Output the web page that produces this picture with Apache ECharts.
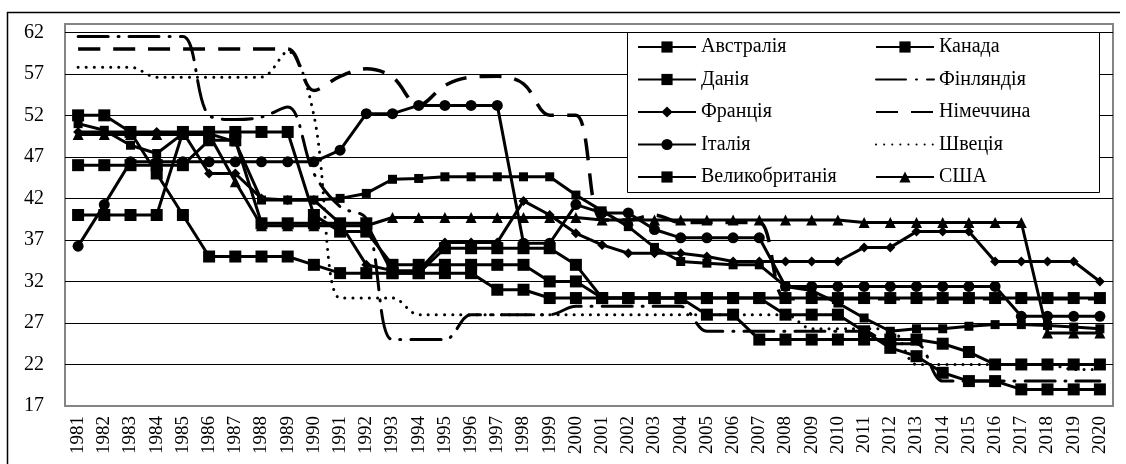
<!DOCTYPE html>
<html>
<head>
<meta charset="utf-8">
<script src="https://cdn.jsdelivr.net/npm/echarts@6/dist/echarts.min.js"></script>
<style>
  html, body { margin: 0; padding: 0; background: #fff; }
  #chart { width: 1126px; height: 464px; }
</style>
</head>
<body>
<div id="chart"></div>
<script>
var years = ['1981','1982','1983','1984','1985','1986','1987','1988','1989','1990',
             '1991','1992','1993','1994','1995','1996','1997','1998','1999','2000',
             '2001','2002','2003','2004','2005','2006','2007','2008','2009','2010',
             '2011','2012','2013','2014','2015','2016','2017','2018','2019','2020'];

// ставки по країнах, 1981-2020
var australia = [46,46,46,46,46,49,49,39,39,39, 39,39,33,33,36,36,36,36,36,34,
                 30,30,30,30,30,30,30,30,30,30, 30,30,30,30,30,30,30,30,30,30];
var canada = [51,50.2,48.4,47.4,49.8,49.8,48.8,41.8,41.8,41.8, 42,42.6,44.3,44.4,44.6,44.6,44.6,44.6,44.6,42.4,
              40.5,38.6,36.1,34.4,34.2,34,34,31.4,30.9,29.4, 27.6,26,26.3,26.3,26.6,26.8,26.8,26.7,26.5,26.3];
var denmark = [40,40,40,40,50,50,50,50,50,40, 38,38,34,34,34,34,34,34,32,32,
               30,30,30,30,28,28,25,25,25,25, 25,25,25,24.5,23.5,22,22,22,22,22];
var finland = [61.5,61.5,61.5,61.5,61.5,52,51.5,51.8,53,45, 41,39.5,25,25,25,28,28,28,28,29,
               29,29,29,29,26,26,26,26,26,26, 26,24.5,24.5,20,20,20,20,20,20,20];
var france = [50,50,50,50,50,45,45,42,41.8,41.8, 39,34,33.3,33.3,36.7,36.7,36.7,41.7,40,37.8,
              36.4,35.4,35.4,35.4,35,34.4,34.4,34.4,34.4,34.4, 36.1,36.1,38,38,38,34.4,34.4,34.4,34.4,32];
var germany = [60,60,60,60,60,60,60,60,60,55, 56.7,57.6,56.6,53.2,55.6,56.6,56.7,55.8,52,52,
               39.4,39.4,40,39.1,39.1,39.1,39.1,29.9,29.9,29.9, 29.9,29.9,29.9,29.9,29.9,29.9,29.9,29.9,29.9,29.9];
var italy = [36.25,41.25,46.4,46.4,46.4,46.4,46.4,46.4,46.4,46.4, 47.8,52.2,52.2,53.2,53.2,53.2,53.2,36.6,36.6,41.25,
             40.25,40.25,38.25,37.25,37.25,37.25,37.25,31.4,31.4,31.4, 31.4,31.4,31.4,31.4,31.4,31.4,27.8,27.8,27.8,27.8];
var sweden = [57.8,57.8,57.8,56.6,56.6,56.6,56.6,56.6,59.7,52, 30,30,30,28,28,28,28,28,28,28,
              28,28,28,28,28,28,28,28,26.3,26.3, 26.3,26.3,22,22,22,22,22,22,21.4,21.4];
var uk = [52,52,50,45,40,35,35,35,35,34, 33,33,33,33,33,33,31,31,30,30,
          30,30,30,30,30,30,30,28,28,28, 26,24,23,21,20,20,19,19,19,19];
var usa = [49.7,49.7,49.7,49.7,49.7,49.7,44,38.7,38.7,38.7, 38.7,38.7,39.7,39.7,39.7,39.7,39.7,39.7,39.7,39.7,
           39.4,39.4,39.4,39.4,39.4,39.4,39.4,39.4,39.4,39.4, 39.1,39.1,39.1,39.1,39.1,39.1,39.1,25.8,25.8,25.8];

var yMin = 17, yMax = 63, yStep = 5;
var serif = '"Liberation Serif", "DejaVu Serif", serif';

// серія з маркерами
function markLine(name, data, symbol, size){
    return {
        name: name, type: 'line', data: data,
        symbol: symbol, symbolSize: size, showAllSymbol: true,
        itemStyle: { color: '#000' },
        lineStyle: { color: '#000', width: 3 }
    };
}
// серія без маркерів (згладжена)
function plainLine(name, data, dash, width, cap){
    return {
        name: name, type: 'line', data: data,
        symbol: 'none', smooth: 0.35,
        itemStyle: { color: '#000' },
        lineStyle: { color: '#000', width: width, type: dash, cap: cap }
    };
}

var series = [
    markLine('Австралія', australia, 'rect', 12),
    markLine('Канада', canada, 'rect', 9),
    markLine('Данія', denmark, 'rect', 12),
    plainLine('Фінляндія', finland, [30, 10, 1, 10], 3, 'round'),
    markLine('Франція', france, 'diamond', 10),
    plainLine('Німеччина', germany, [22, 13], 3.5, 'butt'),
    markLine('Італія', italy, 'circle', 11),
    plainLine('Швеція', sweden, [0.1, 8], 3, 'round'),
    markLine('Великобританія', uk, 'rect', 12),
    markLine('США', usa, 'triangle', 11)
];

// для ліній без маркерів ховаємо кружок у легенді
var noMark = ['Фінляндія', 'Німеччина', 'Швеція'];
function legendCol(left, names){
    return {
        orient: 'vertical', left: left, top: 37, padding: 0,
        itemWidth: 58, itemHeight: 14, itemGap: 12.5,
        data: names.map(function(n){
            return noMark.indexOf(n) >= 0 ? { name: n, itemStyle: { opacity: 0 } } : n;
        }),
        textStyle: { color: '#000', fontSize: 20, fontFamily: serif }
    };
}

var chart = echarts.init(document.getElementById('chart'));
chart.setOption({
    animation: false,
    backgroundColor: '#fff',
    grid: {
        left: 65, right: 13, top: 24, bottom: 58,
        show: true, borderColor: '#858585', borderWidth: 2
    },
    xAxis: {
        type: 'category', data: years, boundaryGap: true,
        axisLine: { show: false }, axisTick: { show: false },
        axisLabel: { rotate: 90, interval: 0, margin: 10, color: '#000', fontSize: 19, fontFamily: serif }
    },
    yAxis: {
        type: 'value', min: yMin, max: yMax, interval: yStep,
        axisLine: { show: false }, axisTick: { show: false },
        axisLabel: { showMaxLabel: false, margin: 21, color: '#000', fontSize: 20, fontFamily: serif },
        splitLine: { show: true, showMinLine: false, showMaxLine: false, lineStyle: { color: '#000', width: 1 } }
    },
    legend: [
        legendCol(637, ['Австралія', 'Данія', 'Франція', 'Італія', 'Великобританія']),
        legendCol(875, ['Канада', 'Фінляндія', 'Німеччина', 'Швеція', 'США'])
    ],
    graphic: [
        // рамка легенди
        { type: 'rect', z: 3, shape: { x: 627.5, y: 32.5, width: 472, height: 160 },
          style: { fill: '#fff', stroke: '#000', lineWidth: 1 } },
        // зовнішня рамка
        { type: 'line', z: 3, shape: { x1: 7, y1: 12.5, x2: 1120, y2: 12.5 }, style: { stroke: '#000', lineWidth: 1.5 } },
        { type: 'line', z: 3, shape: { x1: 7.5, y1: 12, x2: 7.5, y2: 464 }, style: { stroke: '#000', lineWidth: 1.5 } }
    ],
    series: series
});
</script>
</body>
</html>
